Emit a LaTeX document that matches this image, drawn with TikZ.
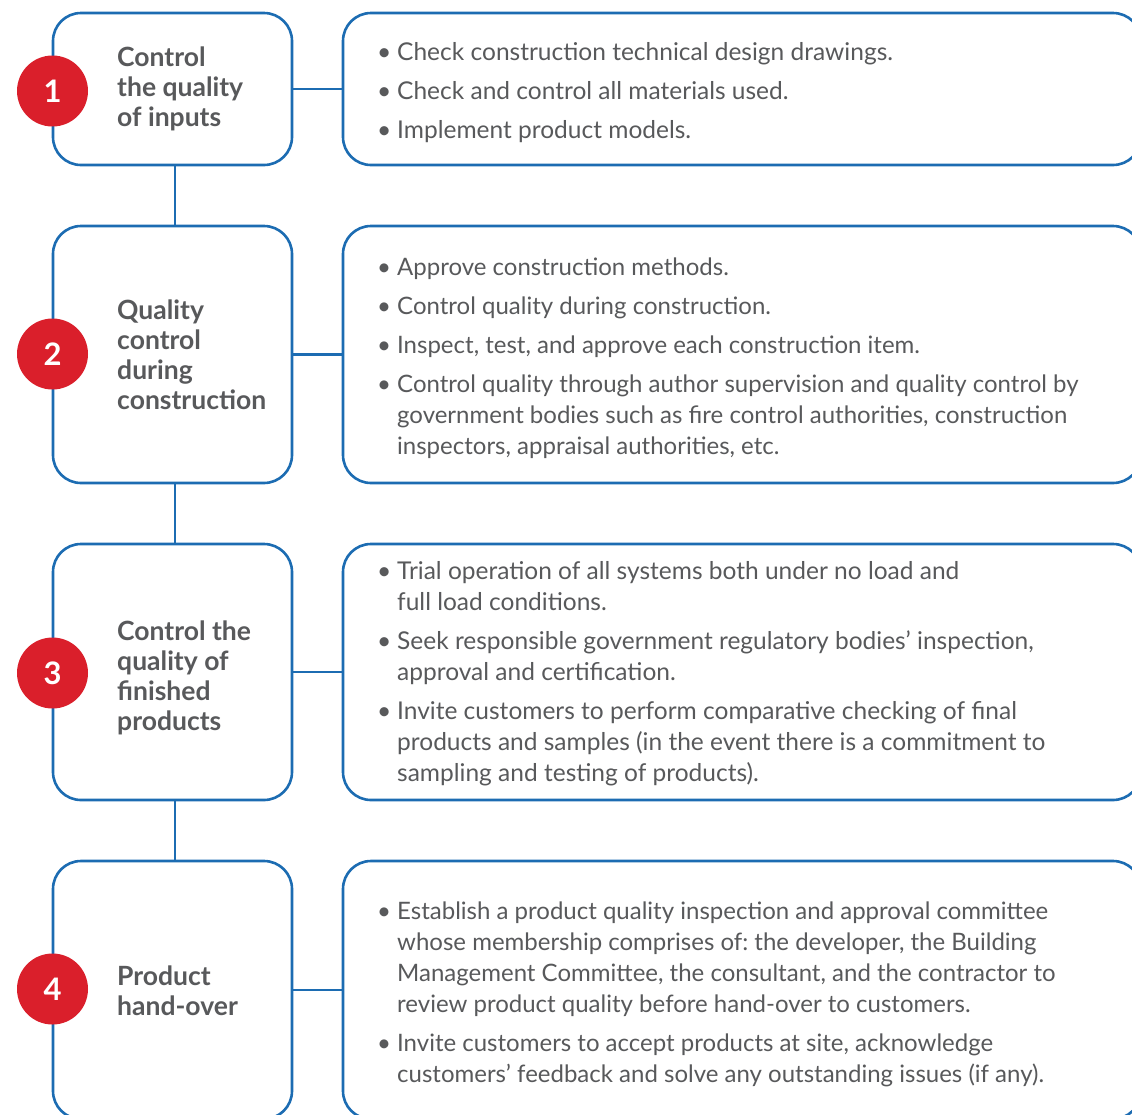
\documentclass[tikz,border=0pt]{standalone}
\usepackage{fontspec}
\setmainfont{Lato}
\usepackage{tikz}
\usetikzlibrary{positioning}
\frenchspacing

\definecolor{lineblue}{HTML}{1C6CB2}
\definecolor{stepred}{HTML}{DA1F2B}
\definecolor{textgray}{HTML}{58595B}

\newcommand{\bul}{\makebox[18pt][l]{\hspace*{-2pt}\textbullet}}
\newcommand{\ind}{\hspace*{18pt}}

\begin{document}
\begin{tikzpicture}[x=1pt,y=-1pt,
  stagebox/.style={draw=lineblue,line width=2.6pt,rounded corners=28pt,fill=white,
    minimum width=239pt,inner sep=0pt},
  taskbox/.style={stagebox,minimum width=798pt},
  link/.style={draw=lineblue,line width=2.6pt},
  numdot/.style={circle,fill=stepred,minimum size=71pt,inner sep=0pt,text=white,
    font=\fontsize{31}{31}\selectfont\bfseries},
  titletext/.style={anchor=west,align=left,inner sep=0pt,text=textgray,
    font=\fontsize{26.5}{30}\selectfont\bfseries},
  itemtext/.style={anchor=west,align=left,inner sep=0pt,text=textgray,
    font=\fontsize{24}{31}\selectfont},
  wideitem/.style={itemtext,font=\fontsize{24.5}{31}\selectfont}]
\useasboundingbox (0,0) rectangle (1132,1114);
\clip (0,0) rectangle (1132,1114);

%%%%%%%%%%%%%%%%%%Draw The Stage Boxes%%%%%%%%%%%%%%%%%%
\node[stagebox,minimum height=152pt] (s1) at (172.5,89) {};
\node[stagebox,minimum height=257pt] (s2) at (172.5,354.5) {};
\node[stagebox,minimum height=256pt] (s3) at (172.5,672) {};
\node[stagebox,minimum height=258pt] (s4) at (172.5,990) {};

%%%%%%%%%%%%%%%%%%Draw The Task Boxes%%%%%%%%%%%%%%%%%%%
\node[taskbox,minimum height=152pt] (k1) at (742,89) {};
\node[taskbox,minimum height=257pt] (k2) at (742,354.5) {};
\node[taskbox,minimum height=256pt] (k3) at (742,672) {};
\node[taskbox,minimum height=258pt] (k4) at (742,990) {};

%%%%%%%%%%%%%%%%%%Draw The Connectors%%%%%%%%%%%%%%%%%%%
\foreach \i in {1,...,4}
  \draw[link] (s\i.east) -- (k\i.west);
\foreach \i/\j in {1/2,2/3,3/4}
  \draw[link] ([xshift=2.5pt]s\i.south) -- ([xshift=2.5pt]s\j.north);

%%%%%%%%%%%%%%%%%%Draw The Step Numbers%%%%%%%%%%%%%%%%%
\node[numdot] (n1) at (52.5,91) {1};
\node[numdot] (n2) at (52.5,354) {2};
\node[numdot] (n3) at (52.5,673) {3};
\node[numdot] (n4) at (52.5,989) {4};

%%%%%%%%%%%%%%%%%%Stage Titles%%%%%%%%%%%%%%%%%%%%%%%%%%
\node[titletext] (t1) at (117,88.5) {Control\\the quality\\of inputs};
\node[titletext] (t2) at (117,355) {Quality\\control\\during\\construction};
\node[titletext] (t3) at (117,678) {Control the\\quality of\\finished\\products};
\node[titletext] (t4) at (117,991) {Product\\hand-over};

%%%%%%%%%%%%%%%%%%Task Lists%%%%%%%%%%%%%%%%%%%%%%%%%%%%
\node[wideitem] (d1) at (379,93) {\bul Check construction technical design drawings.\\[8pt]
  \bul Check and control all materials used.\\[8pt]
  \bul Implement product models.};
\node[itemtext] (d2) at (379,358) {\bul Approve construction methods.\\[8pt]
  \bul Control quality during construction.\\[8pt]
  \bul Inspect, test, and approve each construction item.\\[8pt]
  \bul Control quality through author supervision and quality control by\\
  \ind government bodies such as fire control authorities, construction\\
  \ind inspectors, appraisal authorities, etc.};
\node[wideitem] (d3) at (379,674) {\bul Trial operation of all systems both under no load and\\
  \ind full load conditions.\\[8pt]
  \bul Seek responsible government regulatory bodies' inspection,\\
  \ind approval and certification.\\[8pt]
  \bul Invite customers to perform comparative checking of final\\
  \ind products and samples (in the event there is a commitment to\\
  \ind sampling and testing of products).};
\node[itemtext] (d4) at (379,994) {\bul Establish a product quality inspection and approval committee\\
  \ind whose membership comprises of: the developer, the Building\\
  \ind Management Committee, the consultant, and the contractor to\\
  \ind review product quality before hand-over to customers.\\[8pt]
  \bul Invite customers to accept products at site, acknowledge\\
  \ind customers' feedback and solve any outstanding issues (if any).};
\end{tikzpicture}
\end{document}
